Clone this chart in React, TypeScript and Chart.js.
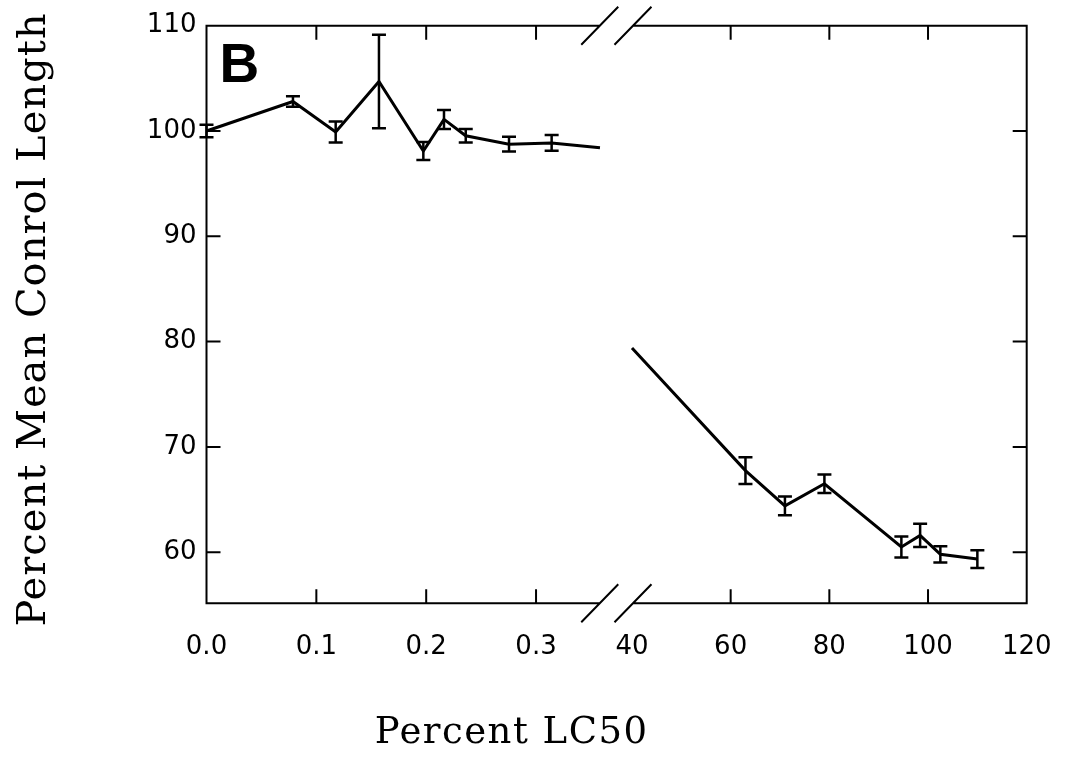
import React, { useEffect, useRef } from 'react';
import { Chart, registerables } from 'chart.js';

Chart.register(...registerables);

// ---- Data ----
const LEFT_X = [0, 0.0787, 0.1176, 0.157, 0.1974, 0.2162, 0.236, 0.2754, 0.3142, 0.3582];
const LEFT_Y = [100.0, 102.8, 99.9, 104.7, 98.1, 101.1, 99.55, 98.75, 98.87, 98.42];
const LEFT_ERR = [0.6, 0.5, 1.0, 4.45, 0.85, 0.9, 0.63, 0.7, 0.75, 0];

const RIGHT_X = [40, 63, 71, 79, 94.6, 98.4, 102.5, 110];
const RIGHT_Y = [79.4, 67.75, 64.4, 66.5, 60.5, 61.6, 59.8, 59.35];
const RIGHT_ERR = [0, 1.26, 0.9, 0.87, 1.0, 1.1, 0.77, 0.84];

const X_TICKS = [0, 0.1, 0.2, 0.3, 40, 60, 80, 100, 120];
const X_TICK_LABELS = ['0.0', '0.1', '0.2', '0.3', '40', '60', '80', '100', '120'];
const Y_TICKS = [60, 70, 80, 90, 100, 110];

const X_TITLE = 'Percent LC50';
const Y_TITLE = 'Percent Mean Conrol Length';
const PANEL_LABEL = 'B';

// Broken axis: left segment 0..0.36, right segment 40..120
const BREAK_LEFT_END = 0.358;
const BREAK_RIGHT_START = 40.2;
const SEG2_OFFSET = 0.38734;
const SEG2_SLOPE = 0.0044916;
const mapX = (v: number) => (v < 1 ? v : SEG2_OFFSET + (v - 40) * SEG2_SLOPE);

const framePlugin = {
  id: 'frameAndErrors',
  afterDraw(chart: any) {
    const { ctx, chartArea, scales } = chart;
    const { left, right, top, bottom } = chartArea;
    const xs = scales.x;
    const ys = scales.y;
    ctx.save();
    ctx.strokeStyle = '#000';
    ctx.lineWidth = 2;
    ctx.lineCap = 'butt';
    const bL = xs.getPixelForValue(mapX(BREAK_LEFT_END));
    const bR = xs.getPixelForValue(mapX(BREAK_RIGHT_START));
    ctx.beginPath();
    ctx.moveTo(left, top); ctx.lineTo(bL, top);
    ctx.moveTo(bR, top); ctx.lineTo(right, top);
    ctx.moveTo(left, bottom); ctx.lineTo(bL, bottom);
    ctx.moveTo(bR, bottom); ctx.lineTo(right, bottom);
    ctx.moveTo(left, top - 1); ctx.lineTo(left, bottom + 1);
    ctx.moveTo(right, top - 1); ctx.lineTo(right, bottom + 1);
    for (const yy of [top, bottom]) {
      for (const xx of [bL, bR]) {
        ctx.moveTo(xx - 18.5, yy + 19);
        ctx.lineTo(xx + 18.5, yy - 19);
      }
    }
    const tl = 14;
    X_TICKS.forEach((v, i) => {
      if (i === 0 || i === X_TICKS.length - 1 || v === 40) return;
      const px = xs.getPixelForValue(mapX(v));
      ctx.moveTo(px, bottom); ctx.lineTo(px, bottom - tl);
      ctx.moveTo(px, top); ctx.lineTo(px, top + tl);
    });
    Y_TICKS.forEach((v) => {
      if (v >= 110) return;
      const py = ys.getPixelForValue(v);
      ctx.moveTo(left, py); ctx.lineTo(left + tl, py);
      ctx.moveTo(right, py); ctx.lineTo(right - tl, py);
    });
    ctx.stroke();

    // error bars
    ctx.lineWidth = 2.5;
    const cap = 7;
    const drawErr = (xv: number[], yv: number[], ev: number[]) => {
      ctx.beginPath();
      xv.forEach((x, i) => {
        if (!ev[i]) return;
        const px = xs.getPixelForValue(mapX(x));
        const p1 = ys.getPixelForValue(yv[i] + ev[i]);
        const p2 = ys.getPixelForValue(yv[i] - ev[i]);
        ctx.moveTo(px, p1); ctx.lineTo(px, p2);
        ctx.moveTo(px - cap, p1); ctx.lineTo(px + cap, p1);
        ctx.moveTo(px - cap, p2); ctx.lineTo(px + cap, p2);
      });
      ctx.stroke();
    };
    drawErr(LEFT_X, LEFT_Y, LEFT_ERR);
    drawErr(RIGHT_X, RIGHT_Y, RIGHT_ERR);

    // panel label
    ctx.fillStyle = '#000';
    ctx.font = 'bold 55px "Liberation Sans", Arial, sans-serif';
    ctx.textAlign = 'left';
    ctx.textBaseline = 'alphabetic';
    ctx.fillText(PANEL_LABEL, left + 13, top + 56);

    // axis titles
    const anyCtx = ctx as any;
    ctx.font = '37px "DejaVu Serif", serif';
    anyCtx.letterSpacing = '1.5px';
    ctx.textAlign = 'center';
    ctx.fillText(X_TITLE, left + 0.372 * (right - left), 743);

    ctx.save();
    ctx.font = '40px "DejaVu Serif", serif';
    anyCtx.letterSpacing = '1px';
    ctx.translate(45, (top + bottom) / 2 + 5);
    ctx.rotate(-Math.PI / 2);
    ctx.fillText(Y_TITLE, 0, 0);
    ctx.restore();
    anyCtx.letterSpacing = '0px';
    ctx.restore();
  },
};

export default function App() {
  const ref = useRef<HTMLCanvasElement | null>(null);
  useEffect(() => {
    if (!ref.current) return;
    const chart = new Chart(ref.current, {
      type: 'line',
      data: {
        datasets: [
          {
            data: LEFT_X.map((x, i) => ({ x: mapX(x), y: LEFT_Y[i] })),
            borderColor: '#000',
            borderWidth: 3,
            pointRadius: 0,
            tension: 0,
            fill: false,
          },
          {
            data: RIGHT_X.map((x, i) => ({ x: mapX(x), y: RIGHT_Y[i] })),
            borderColor: '#000',
            borderWidth: 3,
            pointRadius: 0,
            tension: 0,
            fill: false,
          },
        ],
      },
      options: {
        animation: false,
        responsive: true,
        maintainAspectRatio: false,
        layout: { padding: { top: 25.7, right: 38.3, left: 0, bottom: 0 } },
        plugins: { legend: { display: false }, tooltip: { enabled: false }, title: { display: false } },
        scales: {
          x: {
            type: 'linear',
            min: 0,
            max: mapX(120),
            grid: { display: false, drawTicks: true, tickLength: 28 },
            border: { display: false },
            afterBuildTicks: (s: any) => {
              s.ticks = X_TICKS.map((v) => ({ value: mapX(v) }));
            },
            afterFit: (s: any) => {
              s.height = 159.7;
            },
            ticks: {
              autoSkip: false,
              maxRotation: 0,
              padding: 0,
              color: '#000',
              font: { family: '"DejaVu Sans", sans-serif', size: 26 },
              callback: (_v: any, i: number) => X_TICK_LABELS[i],
            },
          },
          y: {
            type: 'linear',
            min: 55.15,
            max: 110,
            grid: { display: false, drawTicks: true, tickLength: 10 },
            border: { display: false },
            afterBuildTicks: (s: any) => {
              s.ticks = Y_TICKS.map((v) => ({ value: v }));
            },
            afterFit: (s: any) => {
              s.width = 206.5;
            },
            ticks: {
              autoSkip: false,
              padding: 0,
              color: '#000',
              font: { family: '"DejaVu Sans", sans-serif', size: 26 },
              callback: (v: any) => String(v),
            },
          },
        },
      },
      plugins: [framePlugin],
    });
    return () => chart.destroy();
  }, []);
  return (
    <div style={{ position: 'absolute', left: 0, top: 0, width: 1065, height: 763, background: '#fff' }}>
      <canvas ref={ref} />
    </div>
  );
}
